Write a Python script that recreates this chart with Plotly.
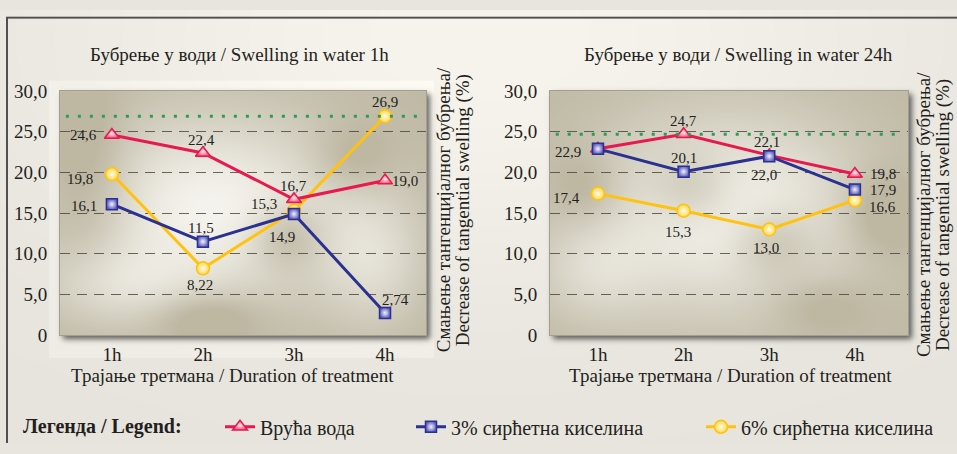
import base64
import math
import struct
import zlib

import numpy as np
import plotly.graph_objects as go

# ---------------------------------------------------------------- data
categories = ["1h", "2h", "3h", "4h"]

hot_water_1h = [24.6, 22.4, 16.7, 19.0]
acetic3_1h = [16.1, 11.5, 14.9, 2.74]
acetic6_1h = [19.8, 8.22, 15.3, 26.9]

hot_water_24h = [22.9, 24.7, 22.1, 19.8]
acetic3_24h = [22.9, 20.1, 22.0, 17.9]
acetic6_24h = [17.4, 15.3, 13.0, 16.6]

y_ticks = [0, 5, 10, 15, 20, 25, 30]
y_tick_labels = ["0", "5,0", "10,0", "15,0", "20,0", "25,0", "30,0"]

series_names = ["Врућа вода", "3% сирћетна киселина", "6% сирћетна киселина"]

# label offsets in px (dx right, dy down) for each point; None = no label
offsets_1h = {
    "hot": [(-28, 0), (-1, -13), (0, -13), (20, 0)],
    "a3": [(-28, 2), (-2, -14), (-12, 23), (10, -13)],
    "a6": [(-32, 5), (-3, 17), (-30, -7), (0, -14)],
}
offsets_24h = {
    "hot": [None, (0, -13), (-2, -13), (28, 0)],
    "a3": [(-30, 3), (0, -14), (-5, 19), (28, 0)],
    "a6": [(-31, 4), (-6, 21), (-3, 19), (28, 7)],
}

# ---------------------------------------------------------------- geometry
W, H = 957, 454
LEFT_BOX = (60, 85, 426, 341)     # x0, y0, x1, y1 in px
RIGHT_BOX = (550, 85, 908, 341)
LEFT_XRANGE = [-0.57, 3.45]
RIGHT_XRANGE = [-0.56, 3.62]

FONT = "Liberation Serif"
INK = "#231f20"

RED, RED_FILL, RED_CORE = "#e8194f", "#f2557a", "#ffe8ee"
BLUE, BLUE_FILL, BLUE_CORE = "#2b3190", "#5d5dbb", "#f2f2ff"
YEL, YEL_FILL, YEL_CORE = "#ffc20e", "#ffd84a", "#fffbe8"


def xdom(box):
    return [box[0] / W, box[2] / W]


def ydom(box):
    return [(H - box[3]) / H, (H - box[1]) / H]


# ---------------------------------------------------------------- backdrop
erfv = np.vectorize(math.erf)
xs = np.arange(W) + 0.5
ys = np.arange(H) + 0.5
XX, YY = np.meshgrid(xs, ys)


def soft_rect(x0, y0, x1, y1, s):
    k = s * math.sqrt(2)
    fx = 0.5 * (erfv((xs - x0) / k) - erfv((xs - x1) / k))
    fy = 0.5 * (erfv((ys - y0) / k) - erfv((ys - y1) / k))
    return np.outer(fy, fx)


def blob_field(box, blobs):
    x0, y0, x1, y1 = box
    u = (XX - x0) / (x1 - x0)
    v = (YY - y0) / (y1 - y0)
    f = np.zeros_like(XX)
    for cu, cv, su, sv, a in blobs:
        f += a * np.exp(-0.5 * (((u - cu) / su) ** 2 + ((v - cv) / sv) ** 2))
    return np.clip(f, 0, 1)


img = np.zeros((H, W, 3))
base = np.array([231.0, 228.0, 221.0])
glow = 16 * np.exp(-((XX - 480) / 430) ** 2 - ((YY - 30) / 260) ** 2)
img[:] = base
img += glow[..., None]

# lighter panel behind the left chart
img[74:365, 49:434] += 7

# drop shadows of the two plot panels
for box in (LEFT_BOX, RIGHT_BOX):
    x0, y0, x1, y1 = box
    s = soft_rect(x0 + 3, y0 + 3, x1 + 4, y1 + 4, 3.0)
    img *= (1 - 0.6 * s)[..., None]

khaki = np.array([190.0, 184.0, 163.0])
light = np.array([245.0, 243.0, 237.0])

left_blobs = [
    (0.42, 0.48, 0.28, 0.28, 1.0),
    (0.86, 0.70, 0.10, 0.20, 0.5),
    (0.15, 0.80, 0.15, 0.12, 0.45),
    (0.62, 0.60, 0.07, 0.09, -0.55),
    (0.40, 0.93, 0.10, 0.07, -0.45),
    (0.08, 0.35, 0.08, 0.25, -0.4),
    (0.80, 0.28, 0.08, 0.10, -0.35),
]
right_blobs = [
    (0.50, 0.50, 0.28, 0.30, 1.0),
    (0.12, 0.75, 0.12, 0.15, 0.4),
    (0.40, 0.40, 0.08, 0.10, -0.45),
    (0.62, 0.62, 0.08, 0.10, -0.5),
    (0.93, 0.50, 0.08, 0.12, -0.45),
    (0.10, 0.40, 0.07, 0.10, -0.35),
    (0.75, 0.88, 0.10, 0.08, -0.3),
]
for box, blobs in ((LEFT_BOX, left_blobs), (RIGHT_BOX, right_blobs)):
    x0, y0, x1, y1 = box
    w = blob_field(box, blobs)[..., None]
    area = khaki * (1 - w) + light * w
    img[y0:y1, x0:x1] = area[y0:y1, x0:x1]

# outer frame
img[7:9, 6:] = 80
img[7:, 6:8] = 80


def png_uri(arr):
    rgb = np.clip(arr, 0, 255).astype(np.int16)
    h, w, _ = rgb.shape
    sub = rgb.copy()
    sub[:, 1:, :] = rgb[:, 1:, :] - rgb[:, :-1, :]
    sub = (sub % 256).astype(np.uint8).reshape(h, w * 3)
    rows = np.concatenate([np.ones((h, 1), np.uint8), sub], axis=1)

    def chunk(tag, data):
        return (struct.pack(">I", len(data)) + tag + data
                + struct.pack(">I", zlib.crc32(tag + data) & 0xFFFFFFFF))

    png = (b"\x89PNG\r\n\x1a\n"
           + chunk(b"IHDR", struct.pack(">IIBBBBB", w, h, 8, 2, 0, 0, 0))
           + chunk(b"IDAT", zlib.compress(rows.tobytes(), 9))
           + chunk(b"IEND", b""))
    return "data:image/png;base64," + base64.b64encode(png).decode()


# ---------------------------------------------------------------- traces
fig = go.Figure()

styles = {
    "hot": dict(color=RED, fill=RED_FILL, core=RED_CORE, symbol="triangle-up", size=13),
    "a3": dict(color=BLUE, fill=BLUE_FILL, core=BLUE_CORE, symbol="square", size=11),
    "a6": dict(color=YEL, fill=YEL_FILL, core=YEL_CORE, symbol="circle", size=13),
}
names = {"hot": series_names[0], "a3": series_names[1], "a6": series_names[2]}
legend_ids = {"hot": "legend", "a3": "legend2", "a6": "legend3"}

panels = [
    ("x", "y", {"hot": hot_water_1h, "a3": acetic3_1h, "a6": acetic6_1h}, offsets_1h, True),
    ("x2", "y2", {"hot": hot_water_24h, "a3": acetic3_24h, "a6": acetic6_24h}, offsets_24h, False),
]

annotations = []
for xa, ya, data, offs, show in panels:
    for key in ("a6", "hot", "a3"):
        st = styles[key]
        fig.add_trace(go.Scatter(
            x=categories, y=data[key], xaxis=xa, yaxis=ya,
            mode="lines+markers", name=names[key],
            legend=legend_ids[key], showlegend=show,
            line=dict(color=st["color"], width=3),
            marker=dict(symbol=st["symbol"], size=st["size"], color=st["fill"],
                        gradient=dict(type="radial", color=st["core"]),
                        line=dict(color=st["color"], width=1.5)),
            hoverinfo="skip",
        ))
        for cat, val, off in zip(categories, data[key], offs[key]):
            if off is None:
                continue
            annotations.append(dict(
                x=cat, y=val, xref=xa, yref=ya, showarrow=False,
                text=str(val).replace(".", ","), xshift=off[0], yshift=-off[1],
                font=dict(family=FONT, size=15, color=INK),
            ))

# reference line at each chart's highest value
for xa, ya, data, _, _ in panels:
    top = max(max(v) for v in data.values())
    fig.add_shape(type="line", xref=f"{xa} domain", yref=ya,
                  x0=0.016, x1=0.984, y0=top, y1=top,
                  line=dict(color="#2a9d55", width=3, dash="3px,9px"))


# ---------------------------------------------------------------- text
def text(x, y, s, size=19, angle=0, bold=False, xanchor="center"):
    annotations.append(dict(
        x=x / W, y=1 - y / H, xref="paper", yref="paper", showarrow=False,
        text=f"<b>{s}</b>" if bold else s, textangle=angle, xanchor=xanchor,
        yanchor="middle", font=dict(family=FONT, size=size, color=INK),
    ))


text(240, 47, "Бубрење у води / Swelling in water 1h")
text(738, 47, "Бубрење у води / Swelling in water 24h")
text(232, 383, "Трајање третмана / Duration of treatment")
text(730, 383, "Трајање третмана / Duration of treatment")
for cx, cy in ((443, 210), (923, 215)):
    text(cx, cy, "Смањење тангенцијалног бубрења/", angle=-90)
    text(cx + 20, cy, "Decrease of tangential swelling (%)", angle=-90)
text(21, 437, "Легенда / Legend:", size=20, bold=True, xanchor="left")

# ---------------------------------------------------------------- axes
axis_line = dict(showline=True, mirror=True, linecolor="#a39e90", linewidth=1,
                 zeroline=False, fixedrange=True)
tickfont = dict(family=FONT, size=19, color=INK)

xaxis_common = dict(type="category", showgrid=False, ticks="", tickfont=tickfont,
                    ticklabelstandoff=2, **axis_line)
yaxis_common = dict(range=[0, 30], tickvals=y_ticks, ticktext=y_tick_labels,
                    showgrid=True, gridcolor="rgba(70,66,58,0.8)", gridwidth=1,
                    griddash="10px,7px", ticks="", tickfont=tickfont,
                    ticklabelstandoff=8, **axis_line)

legend_common = dict(orientation="h", y=1 - 437 / H, yanchor="middle", xanchor="left",
                     bgcolor="rgba(0,0,0,0)", font=dict(family=FONT, size=20, color=INK),
                     itemclick=False, itemdoubleclick=False)

fig.update_layout(
    width=W, height=H, margin=dict(l=0, r=0, t=0, b=0),
    font=dict(family=FONT, color=INK),
    paper_bgcolor="#e8e5de", plot_bgcolor="rgba(0,0,0,0)",
    xaxis=dict(domain=xdom(LEFT_BOX), range=LEFT_XRANGE, anchor="y", **xaxis_common),
    yaxis=dict(domain=ydom(LEFT_BOX), anchor="x", **yaxis_common),
    xaxis2=dict(domain=xdom(RIGHT_BOX), range=RIGHT_XRANGE, anchor="y2", **xaxis_common),
    yaxis2=dict(domain=ydom(RIGHT_BOX), anchor="x2", **yaxis_common),
    legend=dict(x=220 / W, **legend_common),
    legend2=dict(x=411 / W, **legend_common),
    legend3=dict(x=701 / W, **legend_common),
    annotations=annotations,
    images=[dict(source=png_uri(img), xref="paper", yref="paper", x=0, y=1,
                 sizex=1, sizey=1, xanchor="left", yanchor="top",
                 sizing="stretch", layer="below")],
    showlegend=True,
)

fig.write_html("out.html", config={"displayModeBar": False})
